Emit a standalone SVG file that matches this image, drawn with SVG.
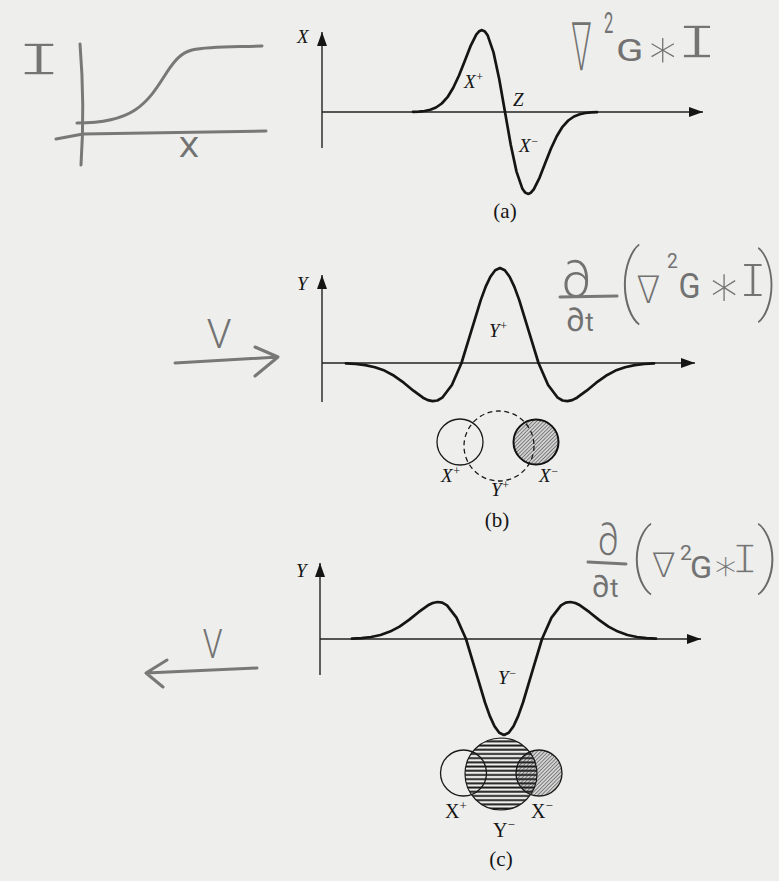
<svg xmlns="http://www.w3.org/2000/svg" width="779" height="881" viewBox="0 0 779 881">
<defs>
<style>
.ax{stroke:#222;stroke-width:1.4;fill:none}
.curve{stroke:#151515;stroke-width:2.7;fill:none;stroke-linejoin:round;stroke-linecap:round}
.hand{stroke:#787878;stroke-width:3;fill:none;stroke-linecap:round;stroke-linejoin:round}
.lbl{font-family:"Liberation Serif",serif;font-style:italic;font-size:19px;fill:#151515}
.rom{font-family:"Liberation Serif",serif;font-size:20px;fill:#151515}
.cap{font-family:"Liberation Serif",serif;font-size:21px;fill:#151515}
.hw{font-family:Roboto,Lato,"DejaVu Sans",sans-serif;font-weight:400;fill:#727272}
.hwl{font-family:Roboto,Lato,"DejaVu Sans",sans-serif;font-weight:300;fill:#727272}
.hwt{font-family:Roboto,Lato,"DejaVu Sans",sans-serif;font-weight:100;fill:#6a6a6a}
.hwi{font-family:"Liberation Mono",monospace;font-weight:400;fill:#747474;stroke:#eeeeec;stroke-width:1.4}
.circ{fill:none;stroke:#1a1a1a;stroke-width:1.3}
</style>
<marker id="ah" markerUnits="userSpaceOnUse" markerWidth="15" markerHeight="10" refX="14" refY="5" orient="auto"><path d="M0,0 L14,5 L0,10 z" fill="#151515"/></marker>
<pattern id="diag" patternUnits="userSpaceOnUse" width="6" height="2.6" patternTransform="rotate(-45)"><rect width="6" height="2.6" fill="#d4d4d4"/><rect y="0.9" width="6" height="0.85" fill="#6e6e6e"/></pattern>
<pattern id="horiz" patternUnits="userSpaceOnUse" width="8" height="4.2"><rect y="1.2" width="8" height="1.9" fill="#1c1c1c"/></pattern>
</defs>
<rect width="779" height="881" fill="#eeeeec"/>

<g id="sketch-intensity">
<path class="hand" d="M80,44 Q85,105 81,165"/>
<path class="hand" d="M56,139 L83,134 L266,131"/>
<path class="hand" d="M77,123 C100,123 120,120 135,110 C150,100 158,86 167,72 C175,60 181,53 192,50 C210,46 235,47 262,46"/>
<text class="hwi" font-size="48" text-anchor="middle" transform="translate(39,75) scale(1.6,1)">I</text>
<text class="hw" font-size="27" text-anchor="middle" transform="translate(189,157) scale(1.2,1)">X</text>
</g>

<g id="panel-a">
<path class="ax" d="M322,148 L322,32" marker-end="url(#ah)"/>
<path class="ax" d="M322,112 L703,112" marker-end="url(#ah)"/>
<polyline class="curve" points="413,111.8 418.75,111.55 424.5,111.0 430.25,109.8 436,107.5 441.75,103.5 447.5,97.2 453.25,87.8 459,75.5 464.75,60.9 470.5,46.2 476.25,34.7 479.1,31.3 482,30.1 484.9,31.5 487.75,35.6 493.5,52.4 499.25,79.3 505,112 510.75,144.7 516.5,171.6 522.25,188.4 525.1,192.5 528,193.9 530.9,192.7 533.75,189.3 539.5,177.8 545.25,163.1 551,148.5 556.75,136.2 562.5,126.8 568.25,120.5 574,116.5 579.75,114.2 585.5,113.0 591.25,112.45 597,112.2"/>
<text class="lbl" x="297" y="43">X</text>
<text class="lbl" x="464" y="88">X<tspan font-size="12" dy="-7">+</tspan></text>
<text class="lbl" x="513" y="106">Z</text>
<text class="lbl" x="519" y="152">X<tspan font-size="12" dy="-7">−</tspan></text>
<text class="cap" x="505" y="218" text-anchor="middle">(a)</text>
</g>

<g id="formula-a">
<text class="hwl" font-size="32" transform="translate(571,70) scale(0.95,2.05)">∇</text>
<text class="hw" font-size="30" transform="translate(604,33) scale(0.55,1)">2</text>
<text class="hw" font-size="31" transform="translate(616,61) scale(1.3,1)">G</text>
<text class="hwl" font-size="54" text-anchor="middle" x="663" y="67">∗</text>
<text class="hwi" font-size="50" text-anchor="middle" transform="translate(697,58) scale(1.4,1)">I</text>
</g>

<g id="panel-b">
<path class="ax" d="M322,402 L322,275" marker-end="url(#ah)"/>
<path class="ax" d="M322,363 L695,363" marker-end="url(#ah)"/>
<polyline class="curve" points="346,363.4 355.6,364.0 365.25,365.1 374.9,367.2 384.5,370.6 394.1,375.8 403.75,382.7 413.4,390.7 423,397.7 427.8,400.1 432.6,401.1 437.4,400.5 442.25,397.7 451.9,385.0 461.5,363 471.1,331.6 480.75,300.1 485.6,286.9 490.4,276.7 495.2,270.2 500,268 504.8,270.2 509.6,276.7 514.4,286.9 519.25,300.1 528.9,331.6 538.5,363 548.1,385.0 557.75,397.7 562.6,400.5 567.4,401.1 572.2,400.1 577,397.7 586.6,390.7 596.25,382.7 605.9,375.8 615.5,370.6 625.1,367.2 634.75,365.1 644.4,364.0 654,363.4"/>
<text class="lbl" x="297" y="290">Y</text>
<text class="lbl" x="489" y="337">Y<tspan font-size="12" dy="-7">+</tspan></text>
<text class="cap" x="497" y="527" text-anchor="middle">(b)</text>
</g>

<g id="arrow-b">
<path class="hand" d="M175,363 L278,357 M255,347 L278,357 L255,376"/>
<text class="hwl" font-size="40" text-anchor="middle" x="219" y="348">V</text>
</g>

<g id="formula-b">
<text class="hwl" font-size="50" text-anchor="middle" x="576" y="297">∂</text>
<path class="hand" stroke-width="2.5" d="M560,297 L617,296"/>
<text class="hw" x="566" y="331"><tspan font-size="32">∂</tspan><tspan font-size="26" dx="1">t</tspan></text>
<text class="hw" transform="translate(622,300) scale(1.2,1.3)"><tspan class="hwt" font-size="62" x="-3" y="5">(</tspan><tspan class="hwl" font-size="29" x="12" y="2.3">∇</tspan><tspan font-size="16" x="37.5" y="-24.6">2</tspan><tspan font-size="27" x="47" y="-1.5">G</tspan><tspan class="hwl" font-size="45" x="71" y="4.3">∗</tspan><tspan class="hwi" font-size="40" x="97" y="-2.3">I</tspan><tspan class="hwt" font-size="57" x="112.5" y="4.8">)</tspan></text>
</g>

<g id="circles-b">
<circle cx="536" cy="442" r="22.5" fill="url(#diag)"/>
<circle class="circ" cx="460" cy="442" r="23"/>
<circle class="circ" cx="499" cy="446" r="35" stroke-dasharray="5 3.5"/>
<circle cx="536" cy="442" r="22.5" fill="none" stroke="#111" stroke-width="2"/>
<text class="lbl" x="441" y="482">X<tspan font-size="12" dy="-7">+</tspan></text>
<text class="lbl" x="491" y="496">Y<tspan font-size="12" dy="-7">+</tspan></text>
<text class="lbl" x="539" y="482">X<tspan font-size="12" dy="-7">−</tspan></text>
</g>

<g id="panel-c">
<path class="ax" d="M320,675 L320,563" marker-end="url(#ah)"/>
<path class="ax" d="M320,639 L701,639" marker-end="url(#ah)"/>
<polyline class="curve" points="352,638.6 361.5,638.05 371,637.0 380.5,635.0 390,631.6 399.5,626.6 409,619.9 418.5,612.2 428,605.3 432.75,603.0 437.5,602.0 442.25,602.6 447,605.3 456.5,617.6 466,639 475.5,670.7 485,702.5 489.75,715.9 494.5,726.2 499.25,732.8 504,735 508.75,732.8 513.5,726.2 518.25,715.9 523,702.5 532.5,670.7 542,639 551.5,617.6 561,605.3 565.75,602.6 570.5,602.0 575.25,603.0 580,605.3 589.5,612.2 599,619.9 608.5,626.6 618,631.6 627.5,635.0 637,637.0 646.5,638.05 656,638.6"/>
<text class="lbl" x="296" y="577">Y</text>
<text class="lbl" x="498" y="684">Y<tspan font-size="12" dy="-7">−</tspan></text>
<text class="cap" x="501" y="866" text-anchor="middle">(c)</text>
</g>

<g id="arrow-c">
<path class="hand" d="M257,668 L146,673 M167,660 L146,673 L163,687"/>
<text class="hwl" font-size="40" text-anchor="middle" transform="translate(212.5,658) scale(0.8,1)">V</text>
</g>

<g id="formula-c">
<text class="hwl" font-size="44" text-anchor="middle" transform="translate(608,555) scale(0.8,1)">∂</text>
<path class="hand" stroke-width="2.5" d="M588,562 L626,564"/>
<text class="hw" x="592" y="597"><tspan font-size="30">∂</tspan><tspan font-size="26" dx="1">t</tspan></text>
<text class="hw" transform="translate(633,575) scale(1.25,1.2)"><tspan class="hwt" font-size="59" x="-2" y="3">(</tspan><tspan class="hwl" font-size="28" x="15" y="1.7">∇</tspan><tspan font-size="17" x="37.6" y="-12.5">2</tspan><tspan font-size="26" x="45.6" y="2.5">G</tspan><tspan class="hwl" font-size="35" x="63" y="3.8">∗</tspan><tspan class="hwi" font-size="37" x="78.5" y="-1.7">I</tspan><tspan class="hwt" font-size="59" x="99" y="3">)</tspan></text>
</g>

<g id="circles-c">
<circle cx="539" cy="773" r="23" fill="url(#diag)"/>
<circle cx="501" cy="774" r="36" fill="url(#horiz)"/>
<circle class="circ" cx="463.5" cy="773" r="23"/>
<circle cx="501" cy="774" r="36" fill="none" stroke="#1a1a1a" stroke-width="1.2"/>
<circle class="circ" cx="539" cy="773" r="23"/>
<text class="rom" x="445" y="818">X<tspan font-size="13" dy="-8">+</tspan></text>
<text class="rom" x="493" y="837">Y<tspan font-size="13" dy="-8">−</tspan></text>
<text class="rom" x="531" y="818">X<tspan font-size="13" dy="-8">−</tspan></text>
</g>
</svg>
